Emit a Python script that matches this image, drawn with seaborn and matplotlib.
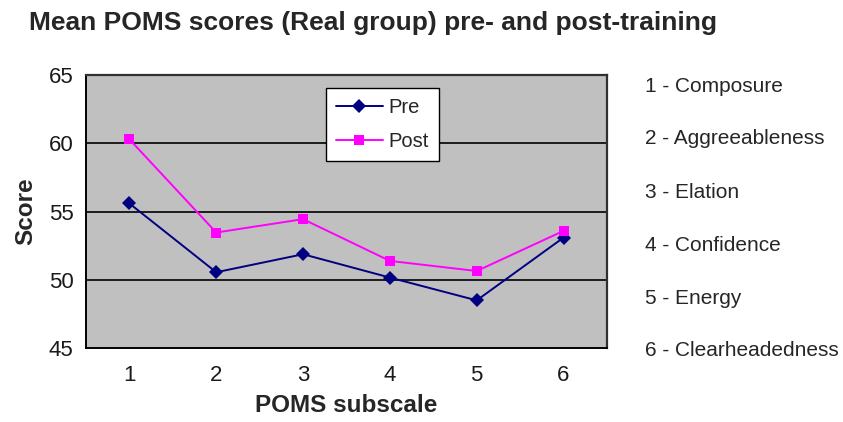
import matplotlib
matplotlib.use("Agg")
import matplotlib.pyplot as plt
import seaborn as sns
import pandas as pd
import numpy as np

subscales = [1, 2, 3, 4, 5, 6]
pre_scores = [55.6, 50.56, 51.88, 50.17, 48.5, 53.1]
post_scores = [60.3, 53.47, 54.45, 51.39, 50.65, 53.59]
series_names = ["Pre", "Post"]
subscale_names = ["1 - Composure", "2 - Aggreeableness", "3 - Elation",
                  "4 - Confidence", "5 - Energy", "6 - Clearheadedness"]
y_ticks = [45, 50, 55, 60, 65]

sns.set_theme(style="white")
plt.rcParams["font.family"] = ["Liberation Sans", "DejaVu Sans"]

df = pd.DataFrame({
    "subscale": subscales * 2,
    "score": pre_scores + post_scores,
    "series": [series_names[0]] * len(subscales) + [series_names[1]] * len(subscales),
})

fig = plt.figure(figsize=(8.43, 4.22), dpi=100)
ax = fig.add_axes([0.102, 0.175, 0.618, 0.647])
ax.set_facecolor("#C0C0C0")

sns.lineplot(data=df, x="subscale", y="score", hue="series", style="series",
             palette={"Pre": "#000080", "Post": "#FF00FF"},
             markers={"Pre": "D", "Post": "s"}, dashes=False,
             markersize=7.5, linewidth=1.4, markeredgewidth=0, ax=ax, zorder=3)

ax.set_xlim(0.5, 6.5)
ax.set_ylim(45, 65)
ax.set_yticks(y_ticks)
for y in y_ticks[1:-1]:
    ax.axhline(y, color="black", linewidth=1.2, zorder=1)

# Category labels centred, tick marks on category boundaries
ax.set_xticks(subscales)
ax.set_xticklabels([str(s) for s in subscales])
ax.set_xticks(np.arange(0.5, 7.0, 1.0), minor=True)
ax.tick_params(axis="x", which="major", length=0, labelsize=16, pad=12)
ax.tick_params(axis="x", which="minor", length=6, width=1.2, color="black",
               direction="out")
ax.tick_params(axis="y", length=6, width=1.2, color="black", direction="out",
               labelsize=16, pad=3)
ax.tick_params(colors="black", which="both")
for lbl in ax.get_xticklabels() + ax.get_yticklabels():
    lbl.set_color("#1a1a1a")

for side in ["left", "bottom"]:
    ax.spines[side].set_color("black")
    ax.spines[side].set_linewidth(1.4)
for side in ["top", "right"]:
    ax.spines[side].set_color("#303030")
    ax.spines[side].set_linewidth(1.6)

ax.set_xlabel("POMS subscale", fontsize=17.5, fontweight="bold", labelpad=6)
ax.set_ylabel("Score", fontsize=17.5, fontweight="bold", labelpad=8)

leg = ax.legend(title=None, loc="upper left", bbox_to_anchor=(0.461, 0.952),
                frameon=True, fancybox=False, fontsize=14.5, handlelength=2.3,
                borderpad=0.5, labelspacing=0.75, handletextpad=0.3,
                borderaxespad=0)
leg.get_frame().set_edgecolor("black")
leg.get_frame().set_linewidth(1.0)
leg.get_frame().set_facecolor("white")
leg.get_frame().set_alpha(1)

fig.text(0.034, 1 - 23 / 422, "Mean POMS scores (Real group) pre- and post-training",
         fontsize=19, fontweight="bold", va="center", ha="left")

for i, name in enumerate(subscale_names):
    fig.text(0.765, 1 - (86 + i * 53) / 422, name, fontsize=15,
             va="center", ha="left")

fig.savefig("out.png", dpi=100)
